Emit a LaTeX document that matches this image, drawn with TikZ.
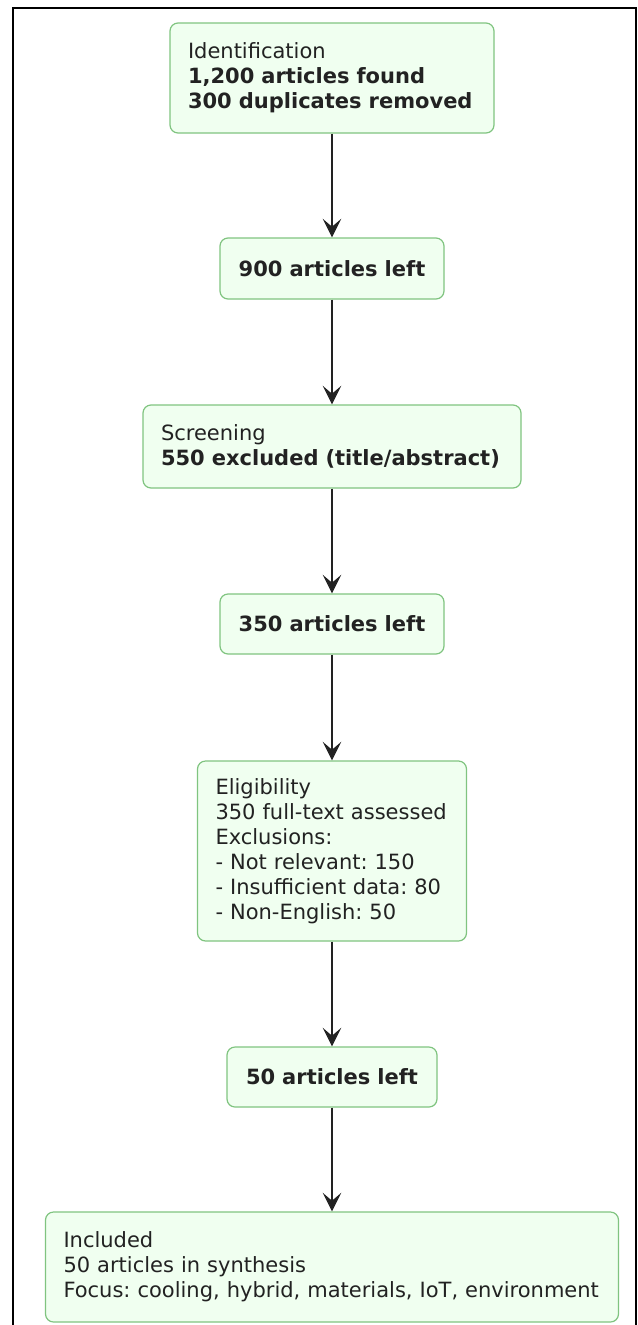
\documentclass[tikz,border=0pt]{standalone}
\usepackage{fontspec}
\setmainfont{DejaVu Sans}
\usetikzlibrary{arrows.meta}
\definecolor{boxfill}{RGB}{240,255,240}
\definecolor{boxline}{RGB}{128,196,128}
\definecolor{inkgray}{RGB}{34,34,34}
\frenchspacing
\tikzset{
	stage/.style={draw=boxline,fill=boxfill,rectangle,rounded corners=6pt,line width=0.9pt,
		inner xsep=13.5pt,inner ysep=0pt,text=inkgray,font=\fontsize{15.75pt}{18.75pt}\selectfont},
	flow/.style={-{Stealth[length=14pt,width=14pt,inset=6pt]},draw=inkgray,line width=0.8pt}
}
\begin{document}
\begin{tikzpicture}[x=0.75pt,y=-0.75pt]
		\useasboundingbox (0,0) rectangle (638,1325);
		\draw[line width=1.5pt] (12.5,1340) -- (12.5,8) -- (635.5,8) -- (635.5,1340);

		\node[stage,text width=216pt,minimum height=82.5pt,align=left] at (332,78) (ident) {Identification\\\textbf{1,200 articles found}\\\textbf{300 duplicates removed}};
		\node[stage,text width=141pt,minimum height=45.75pt,align=center] at (332,268.5) (left900) {\textbf{900 articles left}};
		\node[stage,text width=256.5pt,minimum height=62.25pt,align=left] at (332,446.5) (screen) {Screening\\\textbf{550 excluded (title/abstract)}};
		\node[stage,text width=141pt,minimum height=45pt,align=center] at (332,624) (left350) {\textbf{350 articles left}};
		\node[stage,text width=174.75pt,minimum height=135pt,align=left] at (332,851) (elig) {Eligibility\\350 full-text assessed\\Exclusions:\\- Not relevant: 150\\- Insufficient data: 80\\- Non-English: 50};
		\node[stage,text width=130.5pt,minimum height=45pt,align=center] at (332,1077) (left50) {\textbf{50 articles left}};
		\node[stage,text width=402.75pt,minimum height=82.5pt,align=left] at (332,1267) (incl) {Included\\50 articles in synthesis\\Focus: cooling, hybrid, materials, IoT, environment};

		\draw[flow] (ident) -- (left900);
		\draw[flow] (left900) -- (screen);
		\draw[flow] (screen) -- (left350);
		\draw[flow] (left350) -- (elig);
		\draw[flow] (elig) -- (left50);
		\draw[flow] (left50) -- (incl);
	\end{tikzpicture}
\end{document}
